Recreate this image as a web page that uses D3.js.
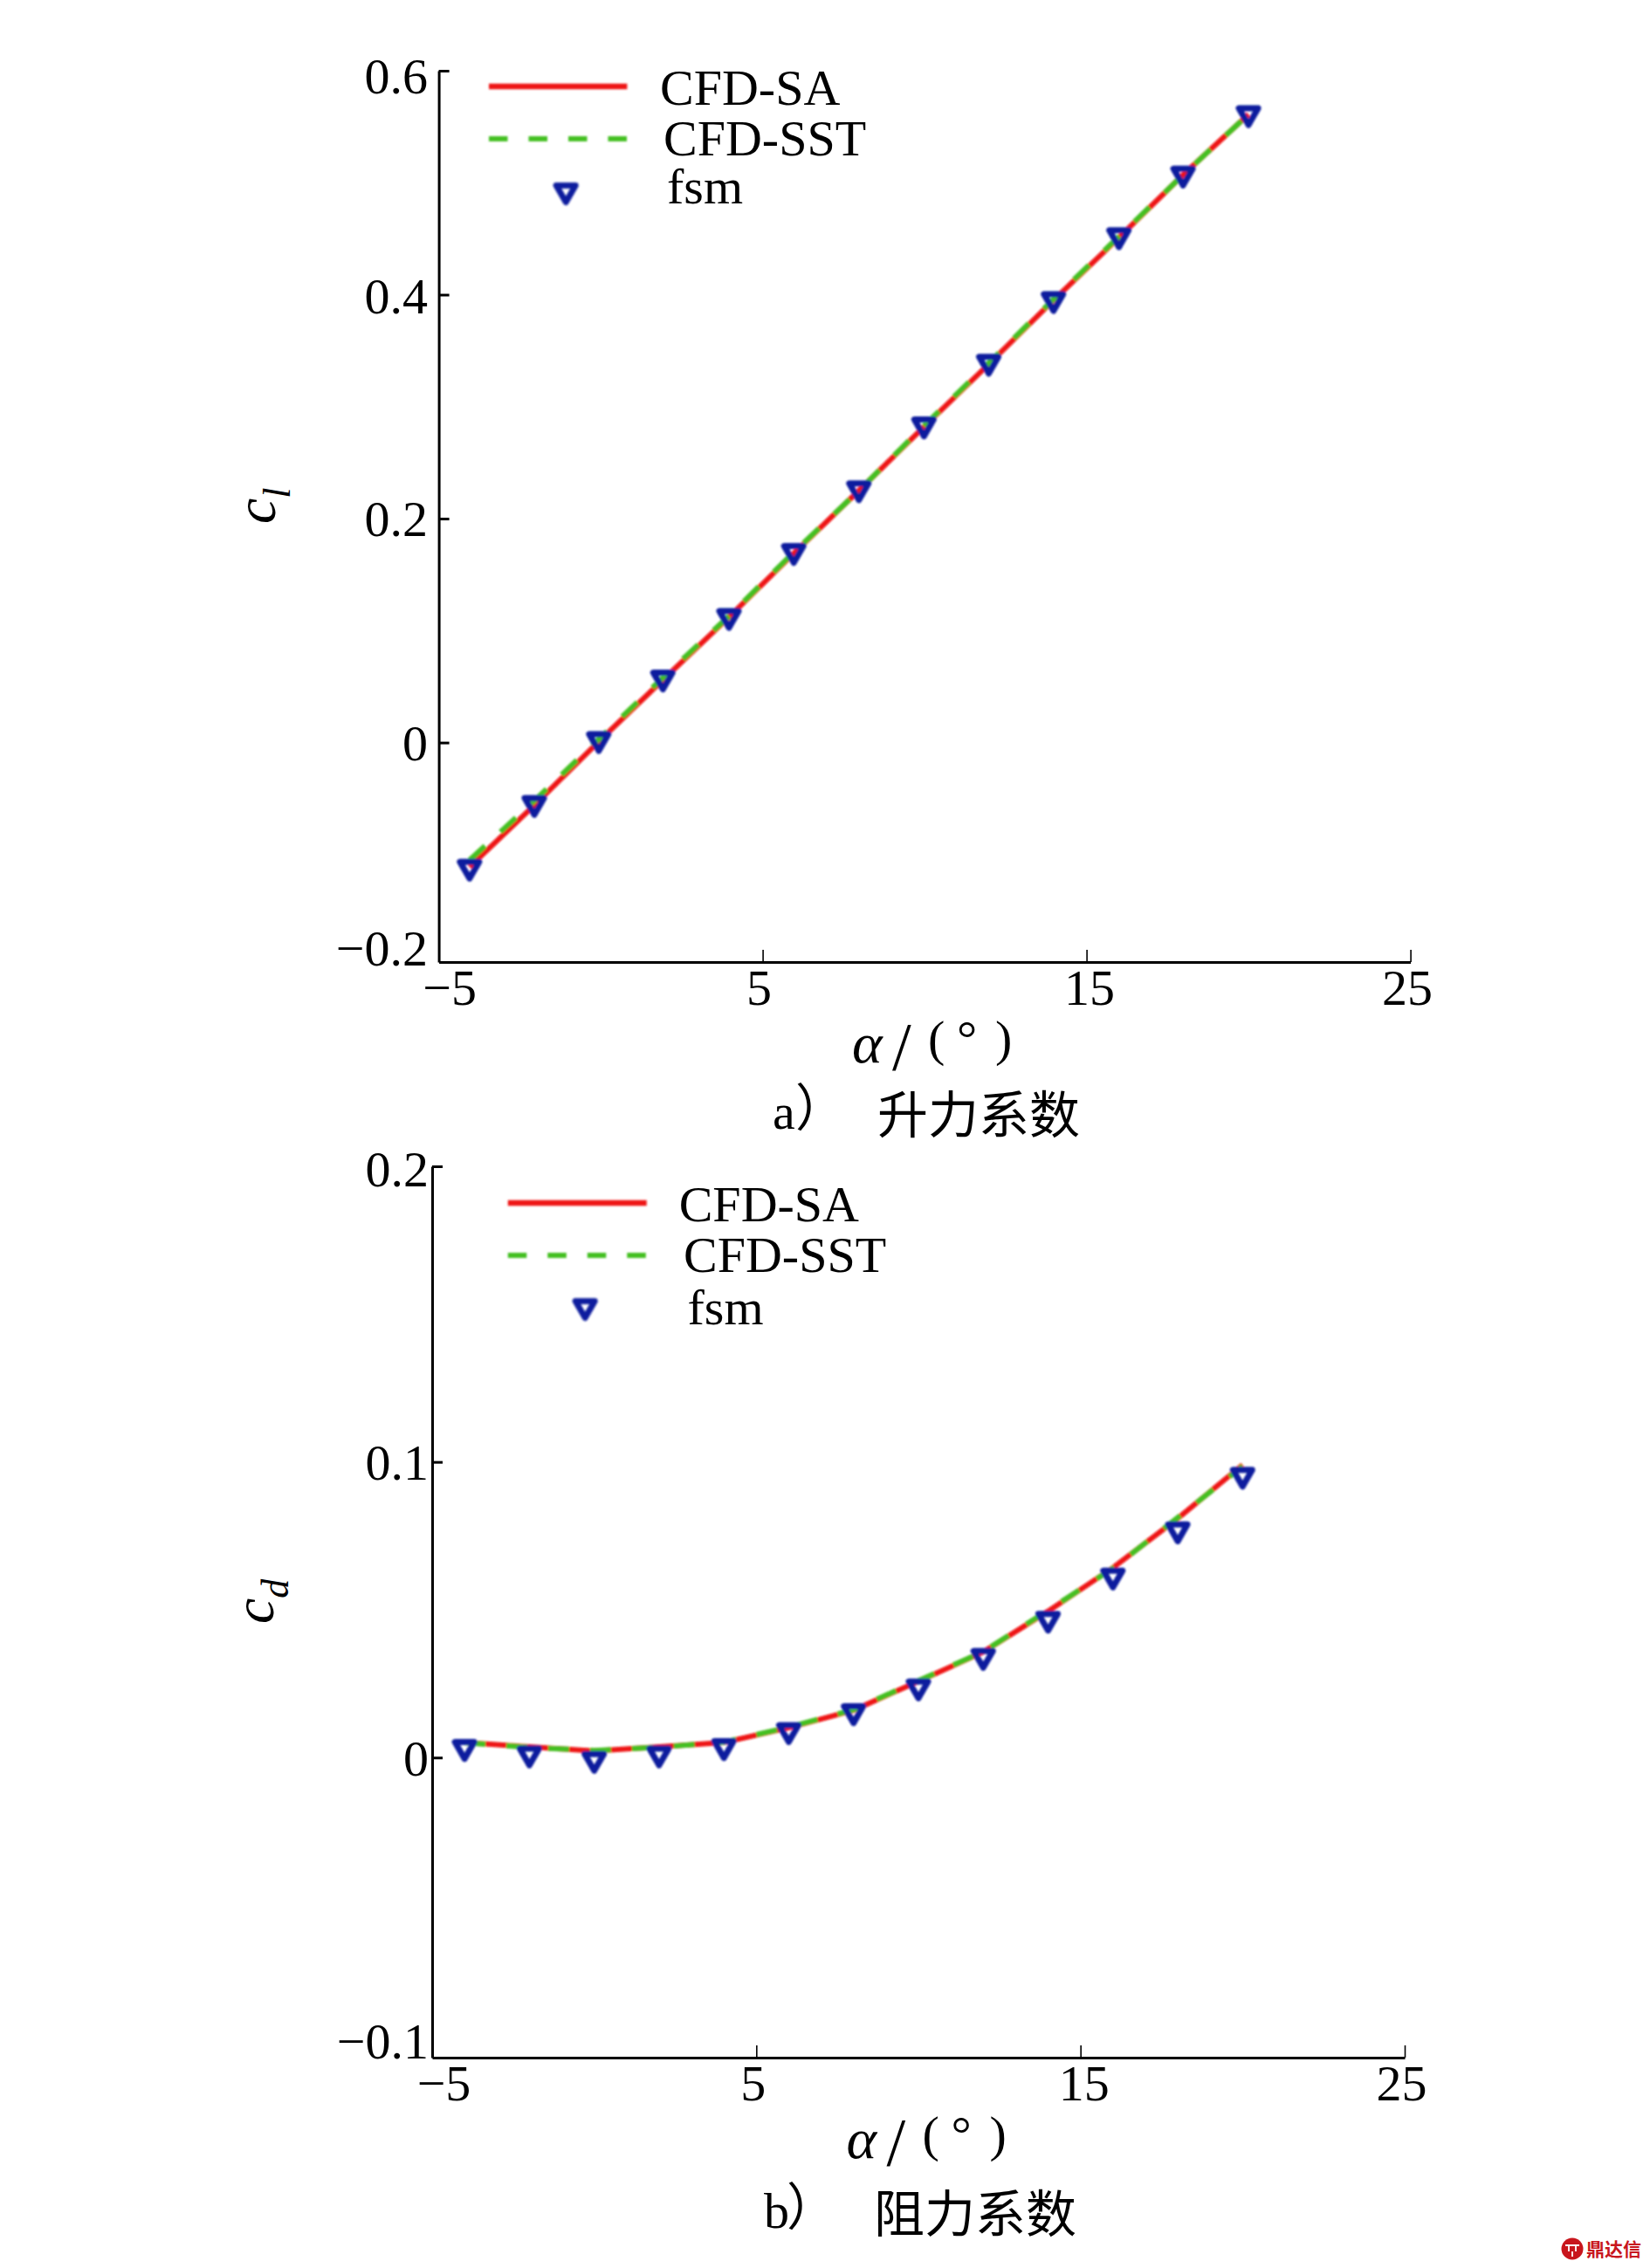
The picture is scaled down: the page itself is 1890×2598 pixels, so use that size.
<!DOCTYPE html>
<html>
<head>
<meta charset="utf-8">
<script src="https://cdn.jsdelivr.net/npm/d3@7"></script>
<style>
  html, body { margin: 0; background: #fff; }
  svg { display: block; }
  text { font-family: "Liberation Serif", "Noto Sans CJK SC", serif; fill: #000; }
</style>
</head>
<body>
<script>
// values
const alphaLift = [-4.05, -2.05, -0.06, 1.92, 3.96, 5.96, 7.97, 9.98, 11.98, 13.98, 16, 17.98, 20];
const clSA  = [-0.111, -0.056, 0.001, 0.056, 0.112, 0.169, 0.225, 0.282, 0.338, 0.395, 0.451, 0.507, 0.561];
const clSST = [-0.105, -0.052, 0.003, 0.058, 0.113, 0.170, 0.225, 0.283, 0.339, 0.396, 0.452, 0.507, 0.561];
const clFsm = [-0.114, -0.057, 0.000, 0.055, 0.110, 0.168, 0.224, 0.281, 0.337, 0.393, 0.450, 0.505, 0.559];

const alphaDrag = [-4, -2, 0, 2, 4, 6, 8, 10, 12, 14, 16, 18, 20];
const cdSA  = [0.0051, 0.0036, 0.0022, 0.0036, 0.0051, 0.0101, 0.0160, 0.0258, 0.0357, 0.0495, 0.0642, 0.0809, 0.0990];
const cdSST = [0.0050, 0.0034, 0.0024, 0.0035, 0.0052, 0.0103, 0.0162, 0.0260, 0.0358, 0.0498, 0.0640, 0.0812, 0.0985];
const cdFsm = [0.0024, 0.0002, -0.0016, 0.0002, 0.0027, 0.0081, 0.0145, 0.0229, 0.0332, 0.0458, 0.0604, 0.0760, 0.0945];

const xTicks = [-5, 5, 15, 25];
const clTicks = [-0.2, 0, 0.2, 0.4, 0.6];
const cdTicks = [-0.1, 0, 0.1, 0.2];
const seriesNames = ['CFD-SA', 'CFD-SST', 'fsm'];

const RED = '#ee1212';
const GREEN = '#45c024';
const BLUE = '#0d1f9e';

const svg = d3.select('body').append('svg')
  .attr('width', 1890)
  .attr('height', 2598);

svg.append('defs').append('filter')
  .attr('id', 'soft')
  .append('feGaussianBlur')
  .attr('stdDeviation', 0.8);

const triangle = d3.symbol(d3.symbolTriangle, 210)();

function drawMarker(g, x, y) {
  g.append('path')
    .attr('d', triangle)
    .attr('transform', `translate(${x},${y - 3.2}) rotate(180)`)
    .attr('fill', 'none')
    .attr('stroke', BLUE)
    .attr('stroke-width', 7)
    .attr('stroke-linejoin', 'round');
}

function drawPanel(p) {
  const x = d3.scaleLinear().domain([-5, 25]).range(p.xRange);
  const y = d3.scaleLinear().domain(p.yDomain).range(p.yRange);

  // axes
  const xAxis = svg.append('g')
    .attr('transform', `translate(0,${p.yRange[0]})`)
    .call(d3.axisBottom(x).tickValues(xTicks).tickSize(-14).tickSizeOuter(0)
      .tickFormat(d => String(d).replace('-', '\u2212')));
  xAxis.select('.domain').attr('stroke', '#000').attr('stroke-width', 3);
  xAxis.selectAll('.tick line').attr('stroke', '#000').attr('stroke-width', 1.6);
  xAxis.selectAll('.tick text')
    .attr('font-family', null)
    .attr('font-size', 58)
    .attr('fill', '#000')
    .attr('text-anchor', 'middle')
    .attr('dx', (d, i) => p.xLabelDx[i])
    .attr('dy', null)
    .attr('y', p.xLabelY - p.yRange[0]);

  const yAxis = svg.append('g')
    .attr('transform', `translate(${p.xRange[0]},0)`)
    .call(d3.axisLeft(y).tickValues(p.yTicks).tickSize(-12).tickSizeOuter(0)
      .tickFormat(d => d === 0 ? '0' : d3.format('.1f')(d).replace('-', '\u2212')));
  yAxis.select('.domain').attr('stroke', '#000').attr('stroke-width', 3);
  yAxis.selectAll('.tick line')
    .attr('stroke', '#000')
    .attr('stroke-width', 3)
    .attr('display', d => d === p.yTicks[0] ? 'none' : null);
  yAxis.selectAll('.tick text')
    .attr('font-family', null)
    .attr('font-size', 58)
    .attr('fill', '#000')
    .attr('text-anchor', 'end')
    .attr('x', p.yLabelX - p.xRange[0])
    .attr('dy', null)
    .attr('y', (d, i) => p.yLabelDy[i]);

  // curves
  const marks = svg.append('g').attr('filter', 'url(#soft)');
  const line = d3.line().x(d => x(d[0])).y(d => y(d[1]));
  marks.append('path')
    .attr('d', line(d3.zip(p.alpha, p.sa)))
    .attr('fill', 'none')
    .attr('stroke', RED)
    .attr('stroke-width', 6);
  marks.append('path')
    .attr('d', line(d3.zip(p.alpha, p.sst)))
    .attr('fill', 'none')
    .attr('stroke', GREEN)
    .attr('stroke-width', 6)
    .attr('stroke-dasharray', '24 24');
  p.alpha.forEach((a, i) => drawMarker(marks, x(a), y(p.fsm[i])));

  // legend
  const lg = svg.append('g');
  const ls = svg.append('g').attr('filter', 'url(#soft)');
  ls.append('line')
    .attr('x1', p.legend.x0).attr('x2', p.legend.x1)
    .attr('y1', p.legend.y[0]).attr('y2', p.legend.y[0])
    .attr('stroke', RED).attr('stroke-width', 6.5);
  ls.append('line')
    .attr('x1', p.legend.x0).attr('x2', p.legend.x1)
    .attr('y1', p.legend.y[1]).attr('y2', p.legend.y[1])
    .attr('stroke', GREEN).attr('stroke-width', 6)
    .attr('stroke-dasharray', '21.5 24');
  drawMarker(ls, (p.legend.x0 + p.legend.x1) / 2 + 9, p.legend.y[2]);
  seriesNames.forEach((s, i) => {
    lg.append('text')
      .attr('x', p.legend.tx[i])
      .attr('y', p.legend.ty[i])
      .attr('font-size', 58)
      .text(s);
  });

  // rotated y title
  const t = svg.append('text')
    .attr('transform', `translate(${p.yTitle[0]},${p.yTitle[1]}) rotate(-90)`)
    .attr('font-size', 66)
    .attr('font-style', 'italic');
  t.append('tspan').text('c');
  t.append('tspan')
    .attr('font-size', 44)
    .attr('dy', 17)
    .text(p.yTitleSub);

  // x title, spaced out like the original
  const b = p.xTitle;
  const xt = (txt, dx, by, size, italic) => svg.append('text')
    .attr('x', b.x + dx)
    .attr('y', b.y + by)
    .attr('font-size', size)
    .attr('font-style', italic ? 'italic' : null)
    .text(txt);
  xt('\u03b1', 0, 0, 66, true);
  xt('/', 46, 8, 78);
  xt('(', 87, -8, 58);
  xt('\u00b0', 120, -8, 58);
  xt(')', 164, -8, 58);

  // caption
  svg.append('text')
    .attr('x', p.caption.x)
    .attr('y', p.caption.y)
    .attr('font-size', 58)
    .text(p.caption.label);
  svg.append('text')
    .attr('x', p.caption.x + 26)
    .attr('y', p.caption.y - 3)
    .attr('font-size', 58)
    .text('\uff09');
  svg.append('text')
    .attr('x', p.caption.zhX)
    .attr('y', p.caption.y + 5)
    .attr('font-size', 58)
    .text(p.caption.zh);
}

drawPanel({
  xRange: [502.6, 1615.6],
  yRange: [1102, 81],
  yDomain: [-0.196, 0.6],
  yTicks: clTicks,
  yLabelX: 490,
  yLabelDy: [-2, 20, 19, 21, 25],
  xLabelDx: [12, -4.5, 3, -4],
  xLabelY: 1151,
  alpha: alphaLift, sa: clSA, sst: clSST, fsm: clFsm,
  legend: {
    x0: 560, x1: 718.4, y: [99, 159, 222],
    tx: [756, 760, 764], ty: [120, 178, 233],
  },
  yTitle: [315, 600],
  yTitleSub: 'l',
  xTitle: { x: 976, y: 1217 },
  caption: { x: 885, y: 1293, label: 'a', zh: '\u5347\u529b\u7cfb\u6570', zhX: 1005 },
});

drawPanel({
  xRange: [495, 1609],
  yRange: [2357, 1336],
  yDomain: [-0.1015, 0.2],
  yTicks: cdTicks,
  yLabelX: 491,
  yLabelDy: [6, 20, 20, 22],
  xLabelDx: [13, -4, 3.5, -4],
  xLabelY: 2406,
  alpha: alphaDrag, sa: cdSA, sst: cdSST, fsm: cdFsm,
  legend: {
    x0: 581.8, x1: 740.7, y: [1378, 1438, 1500],
    tx: [777.7, 783, 787.5], ty: [1399, 1457, 1517],
  },
  yTitle: [313, 1860],
  yTitleSub: 'd',
  xTitle: { x: 969.6, y: 2472 },
  caption: { x: 875, y: 2552, label: 'b', zh: '\u963b\u529b\u7cfb\u6570', zhX: 1001 },
});

// publisher mark, bottom right
const wm = svg.append('g');
wm.append('circle').attr('cx', 1801).attr('cy', 2576).attr('r', 12.5).attr('fill', '#c8161d');
wm.append('path')
  .attr('d', 'M1793 2572h16M1797 2572v7M1805 2572v7M1801 2579v6')
  .attr('stroke', '#fff')
  .attr('stroke-width', 1.8)
  .attr('fill', 'none');
wm.append('text')
  .attr('x', 1817)
  .attr('y', 2584)
  .attr('font-size', 21)
  .attr('font-weight', 700)
  .style('font-family', '"Noto Sans CJK SC"')
  .style('fill', '#c8161d')
  .text('\u9f0e\u8fbe\u4fe1');
</script>
</body>
</html>
